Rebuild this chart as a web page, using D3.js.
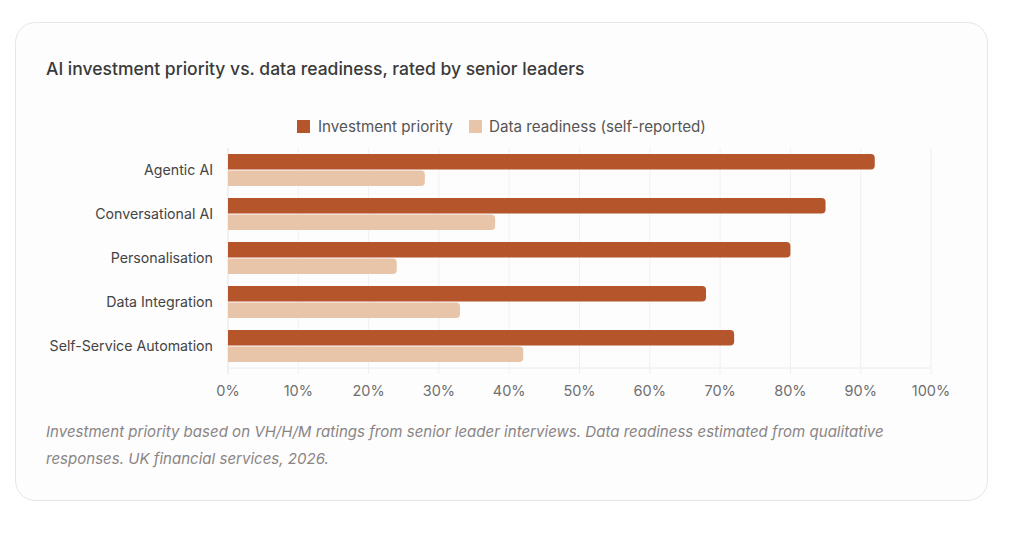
<!DOCTYPE html>
<html>
<head>
<meta charset="utf-8">
<script src="https://cdn.jsdelivr.net/npm/d3@7"></script>
<style>
  body { margin: 0; background: #fff; font-family: Inter, "Liberation Sans", Arial, sans-serif; }
</style>
</head>
<body>
<div id="chart"></div>
<script>
const categories = ["Agentic AI", "Conversational AI", "Personalisation", "Data Integration", "Self-Service Automation"]
const investmentPriority = [92, 85, 80, 68, 72]
const dataReadiness = [28, 38, 24, 33, 42]
const seriesNames = ["Investment priority", "Data readiness (self-reported)"]
const seriesColors = ["#b4552c", "#e8c4a8"]
const xTicks = [0, 10, 20, 30, 40, 50, 60, 70, 80, 90, 100]
const captionLines = [
  "Investment priority based on VH/H/M ratings from senior leader interviews. Data readiness estimated from qualitative",
  "responses. UK financial services, 2026."
]

const width = 1024, height = 533

var svg = d3.select("#chart").append("svg")
    .attr("width", width)
    .attr("height", height)

// card
svg.append("rect")
    .attr("x", 15.5).attr("y", 22.5)
    .attr("width", 972).attr("height", 478)
    .attr("rx", 20)
    .attr("fill", "#fdfdfd")
    .attr("stroke", "#e6e6e6")

svg.append("text")
    .attr("x", 46).attr("y", 75)
    .text("AI investment priority vs. data readiness, rated by senior leaders")
    .style("font-size", "17.5px")
    .style("font-weight", "500")
    .attr("fill", "#3a3a3a")

// legend
const legendItems = [{x: 297, tx: 318}, {x: 469, tx: 489}]
const legend = svg.append("g")
legend.selectAll("rect").data(seriesNames).enter().append("rect")
    .attr("x", (d, i) => legendItems[i].x).attr("y", 120)
    .attr("width", 13).attr("height", 13)
    .attr("fill", (d, i) => seriesColors[i])
legend.selectAll("text").data(seriesNames).enter().append("text")
    .attr("x", (d, i) => legendItems[i].tx).attr("y", 132)
    .text(d => d)
    .style("font-size", "15.2px")
    .attr("fill", "#555")

const plot = {left: 228, right: 931, top: 148, bottom: 368}

const x = d3.scaleLinear().domain([0, 100]).range([plot.left, plot.right])
const y = d3.scaleBand().domain(categories).range([plot.top, plot.bottom]).paddingInner(0.27).paddingOuter(0.135)
const ySub = d3.scaleBand().domain([0, 1]).range([0, y.bandwidth()]).paddingInner(0.06)

// grid
const grid = svg.append("g")
grid.selectAll("line").data(xTicks).enter().append("line")
    .attr("x1", d => x(d)).attr("x2", d => x(d))
    .attr("y1", plot.top).attr("y2", plot.bottom + 6)
    .attr("stroke", d => d === 0 ? "#e2e2e2" : "#f0f0f0")
svg.append("line")
    .attr("x1", plot.left).attr("x2", plot.right)
    .attr("y1", plot.bottom).attr("y2", plot.bottom)
    .attr("stroke", "#ececec")

// bars, rounded on the right end only
function barPath(x0, x1, yTop, h, r) {
  r = Math.min(r, (x1 - x0), h / 2)
  return `M${x0},${yTop}H${x1 - r}Q${x1},${yTop} ${x1},${yTop + r}V${yTop + h - r}Q${x1},${yTop + h} ${x1 - r},${yTop + h}H${x0}Z`
}

const rows = categories.map((c, i) => ({cat: c, vals: [investmentPriority[i], dataReadiness[i]]}))
const groups = svg.selectAll(".row").data(rows).enter().append("g")
    .attr("class", "row")
    .attr("transform", d => `translate(0,${y(d.cat)})`)
groups.selectAll("path").data(d => d.vals).enter().append("path")
    .attr("d", (v, i) => barPath(x(0), x(v), ySub(i), ySub.bandwidth(), 4))
    .attr("fill", (v, i) => seriesColors[i])

// category labels
svg.append("g").selectAll("text").data(categories).enter().append("text")
    .attr("x", 213)
    .attr("y", d => y(d) + y.bandwidth() / 2 + 5)
    .attr("text-anchor", "end")
    .text(d => d)
    .style("font-size", "14.2px")
    .attr("fill", "#444")

// x tick labels
svg.append("g").selectAll("text").data(xTicks).enter().append("text")
    .attr("x", d => x(d))
    .attr("y", 396)
    .attr("text-anchor", "middle")
    .text(d => d + "%")
    .style("font-size", "14.5px")
    .attr("fill", "#6f6f6f")

svg.append("g").selectAll("text").data(captionLines).enter().append("text")
    .attr("x", 46)
    .attr("y", (d, i) => 437 + i * 27)
    .text(d => d)
    .style("font-size", "15.05px")
    .style("font-style", "italic")
    .attr("fill", "#8a8585")
</script>
</body>
</html>
